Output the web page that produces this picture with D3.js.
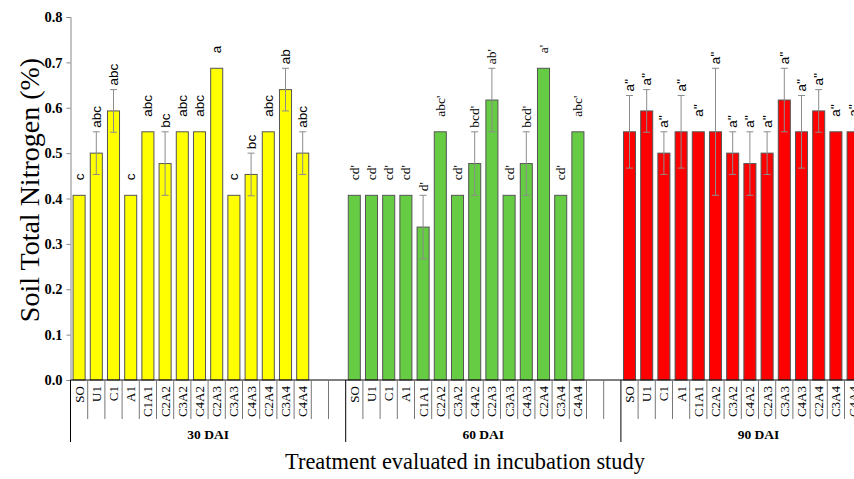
<!DOCTYPE html>
<html>
<head>
<meta charset="utf-8">
<script src="https://cdn.jsdelivr.net/npm/d3@7"></script>
<style>
  body { margin: 0; background: #fff; }
  svg { display: block; }
</style>
</head>
<body>
<svg id="chart" width="854" height="479"></svg>
<script>
// categories
var treatments = ["SO", "U1", "C1", "A1", "C1A1", "C2A2", "C3A2", "C4A2", "C2A3", "C3A3", "C4A3", "C2A4", "C3A4", "C4A4"];
var periods = ["30 DAI", "60 DAI", "90 DAI"];
var yTicks = [0.0, 0.1, 0.2, 0.3, 0.4, 0.5, 0.6, 0.7, 0.8];

// 30 DAI
var mean30 = [0.407, 0.500, 0.593, 0.407, 0.547, 0.477, 0.547, 0.547, 0.687, 0.407, 0.453, 0.547, 0.640, 0.500];
var err30  = [0, 0.047, 0.047, 0, 0, 0.070, 0, 0, 0, 0, 0.047, 0, 0.047, 0.047];
var let30  = ["c", "abc", "abc", "c", "abc", "bc", "abc", "abc", "a", "c", "bc", "abc", "ab", "abc"];

// 60 DAI
var mean60 = [0.407, 0.407, 0.407, 0.407, 0.337, 0.547, 0.407, 0.477, 0.617, 0.407, 0.477, 0.687, 0.407, 0.547];
var err60  = [0, 0, 0, 0, 0.070, 0, 0, 0.070, 0.070, 0, 0.070, 0, 0, 0];
var let60  = ["cd'", "cd'", "cd'", "cd'", "d'", "abc'", "cd'", "bcd'", "ab'", "cd'", "bcd'", "a'", "cd'", "abc'"];

// 90 DAI
var mean90 = [0.547, 0.593, 0.500, 0.547, 0.547, 0.547, 0.500, 0.477, 0.500, 0.617, 0.547, 0.593, 0.547, 0.547];
var err90  = [0.080, 0.047, 0.047, 0.080, 0, 0.140, 0.047, 0.070, 0.047, 0.070, 0.080, 0.047, 0, 0];
var let90  = ["a''", "a''", "a''", "a''", "a''", "a''", "a''", "a''", "a''", "a''", "a''", "a''", "a''", "a''"];

var colors = ["#ffff00", "#66cc44", "#ff0000"];
var letterFonts = ["'Liberation Sans', Arial, sans-serif", "'Liberation Serif', 'Times New Roman', serif", "'Liberation Sans', Arial, sans-serif"];

var slotsPerGroup = 16;   // 14 treatments + 2 empty slots
var serif = "'Liberation Serif', 'Times New Roman', serif";

// build rows
var means = [mean30, mean60, mean90], errs = [err30, err60, err90], lets = [let30, let60, let90];
var data = [];
periods.forEach(function (p, g) {
    treatments.forEach(function (t, j) {
        data.push({ group: g, slot: g * slotsPerGroup + j, name: t, value: means[g][j], err: errs[g][j], letter: lets[g][j] });
    });
});

var svg = d3.select("#chart");
var x0 = 70.5, step = 17.2, nSlots = periods.length * slotsPerGroup;
var yTop = 17, yBottom = 380;

var x = d3.scaleBand()
    .domain(d3.range(nSlots))
    .range([x0, x0 + nSlots * step])
    .paddingInner(0.3)
    .paddingOuter(0.15);

var edge = d3.scaleLinear().domain([0, nSlots]).range([x0, x0 + nSlots * step]);

var y = d3.scaleLinear().domain([0, 0.8]).range([yBottom, yTop]);

// y axis
var yAxis = svg.append("g")
    .attr("transform", "translate(" + x0 + ",0)")
    .call(d3.axisLeft(y).tickValues(yTicks).tickFormat(d3.format(".1f")).tickSize(4).tickPadding(4));
yAxis.select(".domain").attr("stroke", "#888");
yAxis.selectAll(".tick line").attr("stroke", "#888");
yAxis.selectAll(".tick text")
    .attr("font-family", serif).attr("font-size", 14.5).attr("font-weight", "bold").attr("fill", "#000");

// bars
svg.append("g").selectAll("rect")
    .data(data)
    .enter()
    .append("rect")
    .attr("x", function (d) { return x(d.slot); })
    .attr("y", function (d) { return y(d.value); })
    .attr("width", x.bandwidth())
    .attr("height", function (d) { return y(0) - y(d.value); })
    .attr("fill", function (d) { return colors[d.group]; })
    .attr("stroke", "#555")
    .attr("stroke-width", 1);

// error bars
var eb = svg.append("g").selectAll("g")
    .data(data.filter(function (d) { return d.err > 0; }))
    .enter()
    .append("g")
    .attr("stroke", "#8c8c8c")
    .attr("stroke-width", 1);
eb.append("line")
    .attr("x1", function (d) { return x(d.slot) + x.bandwidth() / 2; })
    .attr("x2", function (d) { return x(d.slot) + x.bandwidth() / 2; })
    .attr("y1", function (d) { return y(d.value - d.err); })
    .attr("y2", function (d) { return y(d.value + d.err); });
eb.selectAll("line.cap")
    .data(function (d) { return [d.value - d.err, d.value + d.err].map(function (v) { return { slot: d.slot, v: v }; }); })
    .enter()
    .append("line")
    .attr("class", "cap")
    .attr("x1", function (d) { return x(d.slot) + x.bandwidth() / 2 - 3.5; })
    .attr("x2", function (d) { return x(d.slot) + x.bandwidth() / 2 + 3.5; })
    .attr("y1", function (d) { return y(d.v); })
    .attr("y2", function (d) { return y(d.v); });

// significance letters
svg.append("g").selectAll("text")
    .data(data)
    .enter()
    .append("text")
    .attr("transform", function (d) {
        var cx = x(d.slot) + x.bandwidth() / 2 + 4.5;
        var cy = y(d.value + d.err) - (d.err > 0 ? 4 : 15);
        return "translate(" + cx + "," + cy + ") rotate(-90)";
    })
    .attr("font-family", function (d) { return letterFonts[d.group]; })
    .attr("font-size", 13.5)
    .attr("fill", "#000")
    .text(function (d) { return d.letter; });

// x axis line
svg.append("line")
    .attr("x1", x0).attr("x2", 854)
    .attr("y1", yBottom).attr("y2", yBottom)
    .attr("stroke", "#000");

// slot separators
svg.append("g").selectAll("line")
    .data(d3.range(0, nSlots))
    .enter()
    .append("line")
    .attr("x1", function (i) { return edge(i); })
    .attr("x2", function (i) { return edge(i); })
    .attr("y1", yBottom)
    .attr("y2", function (i) { return i % slotsPerGroup === 0 ? 442 : 419; })
    .attr("stroke", function (i) { return i % slotsPerGroup === 0 ? "#000" : "#777"; })
    .attr("stroke-width", 1);

// treatment labels
svg.append("g").selectAll("text")
    .data(data)
    .enter()
    .append("text")
    .attr("transform", function (d) {
        return "translate(" + (x(d.slot) + x.bandwidth() / 2 + 4.5) + "," + 386 + ") rotate(-90)";
    })
    .attr("text-anchor", "end")
    .attr("font-family", serif)
    .attr("font-size", 13)
    .attr("fill", "#000")
    .text(function (d) { return d.name; });

// period labels
svg.append("g").selectAll("text")
    .data(periods)
    .enter()
    .append("text")
    .attr("x", function (p, g) { return edge(g * slotsPerGroup + slotsPerGroup / 2); })
    .attr("y", 439)
    .attr("text-anchor", "middle")
    .attr("font-family", serif)
    .attr("font-size", 13.5)
    .attr("font-weight", "bold")
    .text(function (p) { return p; });

// axis titles
svg.append("text")
    .attr("x", 465).attr("y", 469)
    .attr("text-anchor", "middle")
    .attr("font-family", serif)
    .attr("font-size", 22.4)
    .text("Treatment evaluated in incubation study");

svg.append("text")
    .attr("transform", "translate(39,190) rotate(-90)")
    .attr("text-anchor", "middle")
    .attr("font-family", serif)
    .attr("font-size", 28)
    .text("Soil Total Nitrogen (%)");
</script>
</body>
</html>
